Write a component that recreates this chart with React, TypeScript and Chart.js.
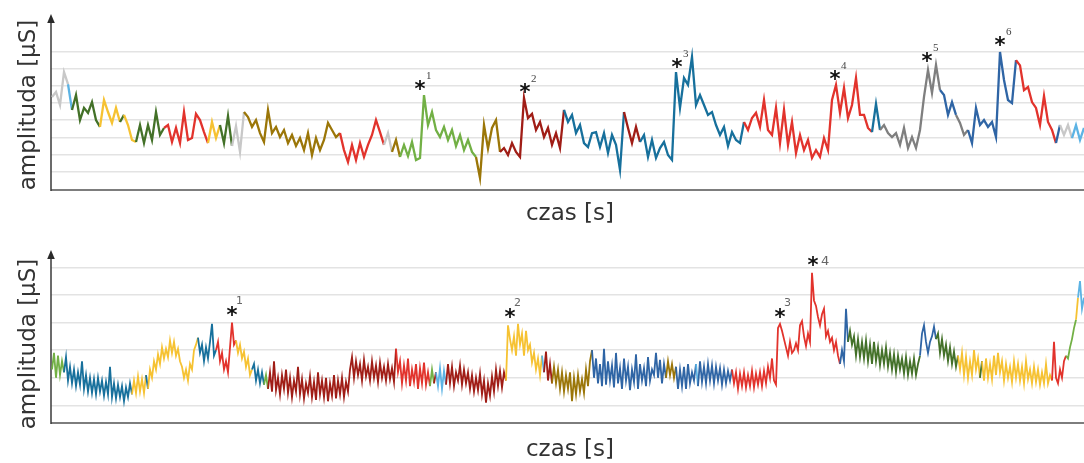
import React, { useEffect, useRef } from "react";
import { Chart, registerables } from "chart.js";
Chart.register(...registerables);

const PALETTE: Record<string, string> = {
  lightGray: "#c8c8c8",
  gray: "#7f7f7f",
  lightBlue: "#5cb3e4",
  darkGreen: "#437128",
  green: "#72b045",
  yellow: "#f6c232",
  red: "#e2332c",
  darkRed: "#a01d16",
  olive: "#9b7608",
  teal: "#17709c",
  blue: "#2f65a5",
};

// ---------- top panel ----------
const topValues = [
  5.36, 5.65, 4.89, 6.81, 6.1, 4.6, 5.47, 4.01, 4.72, 4.43,
  5.06, 4.01, 3.61, 5.18, 4.48, 3.84, 4.72, 3.9, 4.31, 3.72,
  2.85, 2.73, 3.72, 2.67, 3.72, 2.85, 4.48, 3.14, 3.55, 3.72,
  2.73, 3.55, 2.67, 4.48, 2.85, 2.96, 4.37, 4.01, 3.31, 2.67,
  3.9, 2.96, 3.72, 2.67, 4.25, 2.5, 3.66, 2.15, 4.48, 4.19,
  3.61, 4.01, 3.25, 2.73, 4.6, 3.25, 3.61, 3.02, 3.43, 2.67,
  3.14, 2.5, 2.96, 2.26, 3.25, 1.97, 2.96, 2.26, 2.85, 3.84,
  3.43, 3.02, 3.25, 2.26, 1.56, 2.56, 1.68, 2.67, 1.86, 2.56,
  3.14, 4.01, 3.31, 2.56, 3.25, 2.15, 2.85, 1.86, 2.56, 1.91,
  2.73, 1.68, 1.8, 5.47, 3.72, 4.48, 3.43, 3.02, 3.61, 2.85,
  3.43, 2.5, 3.14, 2.26, 2.85, 2.15, 1.86, 0.63, 3.72, 2.35,
  3.55, 4.01, 2.15, 2.38, 1.97, 2.67, 2.15, 1.86, 5.3, 4.13,
  4.37, 3.43, 3.9, 3.02, 3.55, 2.56, 3.25, 2.38, 4.61, 3.9,
  4.31, 3.25, 3.72, 2.67, 2.44, 3.25, 3.31, 2.44, 3.25, 2.09,
  3.14, 2.56, 1.1, 4.48, 3.55, 2.67, 3.61, 2.73, 3.14, 1.86,
  2.85, 1.8, 2.38, 2.73, 1.97, 1.68, 6.81, 4.72, 6.46, 6.06,
  7.69, 4.89, 5.47, 4.89, 4.31, 4.48, 3.72, 3.14, 3.61, 2.5,
  3.31, 2.85, 2.67, 3.9, 3.43, 4.13, 4.43, 3.61, 5.18, 3.43,
  3.14, 4.72, 2.67, 4.61, 2.56, 3.9, 2.09, 3.14, 2.26, 2.85,
  1.8, 2.26, 1.86, 2.96, 2.26, 5.18, 6.06, 4.43, 5.88, 4.13,
  4.89, 6.46, 4.31, 4.31, 3.55, 3.31, 4.95, 3.43, 3.72, 3.25,
  3.02, 3.25, 2.56, 3.55, 2.38, 3.02, 2.38, 3.43, 5.36, 6.93,
  5.59, 7.22, 5.76, 5.47, 4.31, 5.06, 4.31, 3.84, 3.14, 3.43,
  2.67, 4.72, 3.72, 4.01, 3.61, 3.9, 3.02, 7.98, 6.35, 5.18,
  5.0, 7.5, 7.2, 5.76, 5.94, 5.06, 4.72, 3.72, 5.41, 3.9,
  3.43, 2.67, 3.72, 3.14, 3.72, 2.96, 3.72, 2.85, 3.55,
];
const topSegStart = [0, 4, 5, 12, 17, 18, 21, 28, 39, 42, 45, 48, 72, 83, 85, 87, 106, 112, 128, 143, 147, 173, 205, 207, 222, 226, 229, 241, 251, 252, 255];
const topSegColor = [
  "lightGray", "lightBlue", "darkGreen", "yellow", "darkGreen", "yellow", "darkGreen", "red", "yellow", "darkGreen",
  "lightGray", "olive", "red", "lightGray", "olive", "green", "olive", "darkRed", "teal", "darkRed",
  "teal", "red", "teal", "gray", "blue", "gray", "blue", "red", "blue", "lightGray", "lightBlue",
];
const topGrid = [1, 2, 3, 4, 5, 6, 7, 8];
const topStarIndex = [92, 118.25, 156.25, 195.75, 218.75, 237];
const topStarLevel = [6.06, 5.88, 7.34, 6.64, 7.69, 8.62];
const topStarLabel = ["1", "2", "3", "4", "5", "6"];
const topStarPlacement = ["sup", "sup", "sup", "sup", "sup", "sup"];

// ---------- bottom panel ----------
const bottomValues = [
  2.3, 2.9, 2.0, 2.8, 2.1, 2.6, 2.2, 2.75, 1.9, 2.4,
  1.8, 2.3, 1.7, 2.2, 1.75, 2.6, 1.6, 2.1, 1.5, 2.0,
  1.45, 1.95, 1.4, 2.0, 1.5, 1.9, 1.35, 1.85, 1.4, 2.4,
  1.3, 1.8, 1.25, 1.75, 1.3, 1.7, 1.15, 1.65, 1.3, 1.8,
  1.4, 1.9, 1.45, 2.05, 1.5, 1.95, 1.45, 2.1, 1.6, 2.3,
  2.0, 2.6, 2.3, 2.85, 2.5, 3.1, 2.7, 3.05, 2.75, 3.35,
  2.9, 3.3, 2.8, 3.05, 2.6, 2.4, 2.0, 2.3, 1.9, 2.5,
  2.3, 3.0, 3.2, 3.45, 2.9, 3.2, 2.6, 3.1, 2.7, 3.3,
  3.95, 2.8, 3.0, 3.3, 2.6, 2.9, 2.3, 2.6, 2.2, 3.1,
  4.0, 3.2, 3.35, 2.9, 3.2, 2.7, 2.95, 2.4, 2.7, 2.1,
  2.3, 2.5, 1.9, 2.3, 1.8, 2.2, 1.75, 2.1, 1.6, 2.2,
  1.5, 2.6, 1.55, 2.0, 1.4, 2.1, 1.6, 2.3, 1.45, 2.0,
  1.3, 1.9, 1.5, 2.4, 1.4, 1.95, 1.25, 1.8, 1.45, 2.05,
  1.3, 1.85, 1.2, 2.2, 1.4, 1.9, 1.3, 2.0, 1.15, 1.8,
  1.35, 2.1, 1.25, 1.9, 1.4, 2.0, 1.3, 1.85, 1.5, 2.3,
  2.75, 2.0, 2.6, 2.1, 2.5, 1.9, 2.65, 2.05, 2.4, 1.9,
  2.6, 2.0, 2.45, 1.85, 2.55, 2.0, 2.4, 1.9, 2.5, 1.95,
  2.35, 1.85, 3.05, 2.2, 2.6, 1.8, 2.45, 1.9, 2.7, 1.7,
  2.3, 1.85, 2.5, 1.6, 2.35, 1.8, 2.55, 1.75, 2.2, 1.7,
  2.3, 1.8, 2.2, 1.7, 2.35, 1.6, 2.25, 1.75, 2.5, 1.8,
  2.4, 1.7, 2.2, 1.9, 2.45, 1.75, 2.3, 1.8, 2.2, 1.6,
  2.1, 1.5, 2.0, 1.55, 2.15, 1.4, 1.9, 1.1, 1.8, 1.35,
  2.05, 1.5, 2.3, 1.7, 2.25, 1.65, 2.2, 1.9, 3.9, 3.4,
  3.0, 3.5, 2.8, 3.95, 3.2, 3.6, 2.8, 3.7, 3.0, 3.2,
  2.55, 2.9, 2.3, 2.7, 2.1, 2.8, 2.2, 2.95, 1.9, 2.5,
  1.8, 2.4, 1.8, 2.3, 1.6, 2.2, 1.5, 2.1, 1.6, 2.2,
  1.15, 2.0, 1.4, 2.1, 1.5, 1.95, 1.45, 2.3, 1.7, 2.6,
  3.0, 2.0, 2.7, 1.8, 2.5, 1.7, 3.05, 1.75, 2.6, 1.9,
  2.45, 1.65, 2.9, 1.8, 2.35, 1.6, 2.7, 1.9, 2.4, 1.55,
  2.3, 1.85, 2.85, 1.6, 2.5, 1.9, 2.35, 1.7, 2.75, 1.9,
  2.3, 2.1, 2.9, 2.0, 2.65, 1.8, 2.5, 2.0, 2.6, 2.1,
  2.5, 2.0, 2.4, 1.6, 2.3, 1.7, 2.4, 1.6, 2.5, 1.8,
  2.2, 1.9, 2.5, 1.7, 2.6, 1.85, 2.4, 1.8, 2.5, 1.9,
  2.45, 1.8, 2.4, 1.9, 2.35, 1.75, 2.3, 1.8, 2.25, 1.9,
  2.3, 1.8, 2.2, 1.6, 2.15, 1.7, 2.2, 1.65, 2.1, 1.7,
  2.25, 1.65, 2.15, 1.75, 2.2, 1.7, 2.25, 1.8, 2.4, 2.0,
  2.7, 1.9, 1.75, 3.8, 3.95, 3.7, 3.4, 3.1, 2.8, 3.3,
  2.9, 3.0, 3.25, 3.0, 3.9, 4.05, 3.5, 3.15, 3.6, 3.3,
  5.8, 4.8, 4.6, 4.2, 3.9, 4.3, 4.5, 3.5, 3.7, 3.3,
  3.45, 3.0, 3.3, 2.8, 2.5, 3.0, 2.6, 4.5, 3.3, 3.7,
  3.2, 3.5, 2.8, 3.4, 2.75, 3.3, 2.7, 3.35, 2.6, 3.2,
  2.5, 3.3, 2.6, 3.1, 2.45, 3.0, 2.5, 3.1, 2.4, 2.9,
  2.3, 2.85, 2.2, 2.8, 2.3, 2.7, 2.15, 2.75, 2.1, 2.6,
  2.15, 2.7, 2.1, 2.5, 2.8, 3.6, 3.9, 3.3, 2.9, 3.3,
  3.5, 3.85, 3.4, 3.6, 2.9, 3.4, 2.8, 3.2, 2.6, 3.1,
  2.5, 2.95, 2.4, 2.8, 2.3, 2.9, 2.1, 2.75, 2.0, 2.6,
  2.1, 3.0, 2.3, 2.7, 2.0, 2.6, 1.9, 2.7, 2.0, 2.5,
  1.95, 2.8, 2.1, 2.9, 2.2, 2.6, 1.9, 2.5, 2.0, 2.4,
  1.85, 2.6, 2.0, 2.5, 1.9, 2.4, 1.8, 2.6, 1.95, 2.3,
  1.8, 2.4, 1.85, 2.3, 1.75, 2.2, 1.8, 2.5, 1.8, 2.1,
  1.9, 3.3, 2.0, 1.8, 2.3, 2.0, 2.6, 2.8, 2.7, 3.1,
  3.4, 3.8, 4.1, 4.9, 5.5, 4.5, 4.9,
];
const bottomSegStart = [0, 6, 40, 47, 48, 73, 82, 92, 100, 106, 108, 172, 189, 191, 192, 197, 227, 245, 246, 250, 270, 307, 312, 322, 323, 340, 394, 398, 434, 442, 453, 464, 465, 500, 507, 512, 513];
const bottomSegColor = [
  "green", "teal", "yellow", "teal", "yellow", "teal", "red", "yellow", "teal", "green",
  "darkRed", "red", "green", "darkRed", "lightBlue", "darkRed", "yellow", "lightBlue", "darkRed", "olive",
  "blue", "olive", "blue", "lightBlue", "blue", "red", "blue", "darkGreen", "blue", "darkGreen",
  "yellow", "darkGreen", "yellow", "red", "green", "yellow", "lightBlue",
];
const bottomGrid = [1, 2, 3, 4, 5, 6];
const bottomStarIndex = [90, 229, 364, 380.5];
const bottomStarLevel = [4.42, 4.35, 4.35, 6.22];
const bottomStarLabel = ["1", "2", "3", "4"];
const bottomStarPlacement = ["sup", "sup", "sup", "side"];

type PanelProps = {
  top: number;
  height: number;
  values: number[];
  segStart: number[];
  segColor: string[];
  grid: number[];
  yMin: number;
  yMax: number;
  xMin: number;
  lineWidth: number;
  pad: { left: number; top: number; right: number; bottom: number };
  starIndex: number[];
  starLevel: number[];
  starLabel: string[];
  starPlacement: string[];
  supFont: string;
  supColor: string;
  supDx: number;
  supDy: number;
};

function colorAt(i: number, segStart: number[], segColor: string[]) {
  let c = segColor[0];
  for (let k = 0; k < segStart.length; k++) {
    if (i >= segStart[k]) c = segColor[k];
  }
  return PALETTE[c];
}

function Panel(p: PanelProps) {
  const ref = useRef<HTMLCanvasElement>(null);
  useEffect(() => {
    const canvas = ref.current!;
    const decor = {
      id: "decor",
      beforeDatasetsDraw(chart: any) {
        const { ctx, chartArea: a } = chart;
        ctx.save();
        ctx.strokeStyle = "#7d7d7d";
        ctx.lineWidth = 2;
        ctx.beginPath();
        ctx.moveTo(a.left, a.bottom);
        ctx.lineTo(a.right, a.bottom);
        ctx.stroke();
        ctx.strokeStyle = "#3a3a3a";
        ctx.lineWidth = 1.5;
        ctx.beginPath();
        ctx.moveTo(a.left, a.bottom + 1);
        ctx.lineTo(a.left, a.top + 4);
        ctx.stroke();
        ctx.fillStyle = "#2a2a2a";
        ctx.beginPath();
        ctx.moveTo(a.left, a.top - 3);
        ctx.lineTo(a.left - 3.8, a.top + 6);
        ctx.lineTo(a.left + 3.8, a.top + 6);
        ctx.closePath();
        ctx.fill();
        ctx.restore();
      },
      afterDatasetsDraw(chart: any) {
        const { ctx, scales } = chart;
        const xs = scales.x;
        const ys = scales.y;
        ctx.save();
        for (let k = 0; k < p.starIndex.length; k++) {
          const x = xs.getPixelForValue(p.starIndex[k]);
          const yc = ys.getPixelForValue(p.starLevel[k]);
          ctx.font = 'bold 21px "DejaVu Sans"';
          ctx.fillStyle = "#111";
          ctx.textAlign = "center";
          ctx.textBaseline = "alphabetic";
          const m = ctx.measureText("*");
          const off = (m.actualBoundingBoxAscent - m.actualBoundingBoxDescent) / 2;
          ctx.fillText("*", x, yc + off);
          ctx.textAlign = "left";
          ctx.textBaseline = "middle";
          ctx.fillStyle = p.supColor;
          if (p.starPlacement[k] === "side") {
            ctx.font = '13px "DejaVu Sans"';
            ctx.fillText(p.starLabel[k], x + 8, yc);
          } else {
            ctx.font = p.supFont;
            ctx.fillText(p.starLabel[k], x + p.supDx, yc + p.supDy);
          }
        }
        ctx.restore();
      },
    };
    const chart = new Chart(canvas, {
      type: "line",
      data: {
        datasets: [
          {
            data: p.values.map((v, i) => ({ x: i, y: v })),
            borderColor: colorAt(0, p.segStart, p.segColor),
            borderWidth: p.lineWidth,
            pointRadius: 0,
            tension: 0,
            segment: {
              borderColor: (ctx: any) => colorAt(ctx.p0DataIndex, p.segStart, p.segColor),
            },
          },
        ],
      },
      options: {
        animation: false,
        responsive: false,
        maintainAspectRatio: false,
        events: [],
        layout: { padding: p.pad, autoPadding: false } as any,
        plugins: { legend: { display: false }, tooltip: { enabled: false } },
        scales: {
          x: {
            type: "linear",
            min: p.xMin,
            max: p.values.length - 1,
            display: false,
          },
          y: {
            type: "linear",
            min: p.yMin,
            max: p.yMax,
            display: true,
            border: { display: false },
            grid: { color: "#e3e3e3", lineWidth: 1.5, drawTicks: false },
            ticks: { display: false },
            afterBuildTicks: (axis: any) => {
              axis.ticks = p.grid.map((v) => ({ value: v }));
            },
          },
        },
      },
      plugins: [decor],
    } as any);
    return () => chart.destroy();
  }, []);
  return (
    <canvas
      ref={ref}
      width={1084}
      height={p.height}
      style={{ position: "absolute", left: 0, top: p.top, width: 1084, height: p.height, display: "block" }}
    />
  );
}

const labelBase: React.CSSProperties = {
  position: "absolute",
  fontFamily: '"DejaVu Sans", sans-serif',
  fontSize: 23,
  lineHeight: "23px",
  color: "#333",
  whiteSpace: "nowrap",
};

export default function App() {
  return (
    <div style={{ position: "absolute", left: 0, top: 0, width: 1084, height: 463, background: "#fff", overflow: "hidden" }}>
      <Panel
        top={0}
        height={232}
        values={topValues}
        segStart={topSegStart}
        segColor={topSegColor}
        grid={topGrid}
        yMin={-0.068}
        yMax={10.02}
        xMin={-0.25}
        lineWidth={2.3}
        pad={{ left: 51, top: 17, right: 0, bottom: 42 }}
        starIndex={topStarIndex}
        starLevel={topStarLevel}
        starLabel={topStarLabel}
        starPlacement={topStarPlacement}
        supFont='11px "Liberation Serif"'
        supColor="#444"
        supDx={6}
        supDy={-9}
      />
      <Panel
        top={232}
        height={231}
        values={bottomValues}
        segStart={bottomSegStart}
        segColor={bottomSegColor}
        grid={bottomGrid}
        yMin={0.364}
        yMax={6.517}
        xMin={-0.5}
        lineWidth={1.8}
        pad={{ left: 51, top: 21, right: 0, bottom: 40 }}
        starIndex={bottomStarIndex}
        starLevel={bottomStarLevel}
        starLabel={bottomStarLabel}
        starPlacement={bottomStarPlacement}
        supFont='11px "DejaVu Sans"'
        supColor="#666"
        supDx={4}
        supDy={-10}
      />
      <div style={{ ...labelBase, left: 27, top: 105, transform: "translate(-50%, -50%) rotate(-90deg)" }}>amplituda [µS]</div>
      <div style={{ ...labelBase, left: 27, top: 344, transform: "translate(-50%, -50%) rotate(-90deg)" }}>amplituda [µS]</div>
      <div style={{ ...labelBase, left: 570, top: 212, transform: "translate(-50%, -50%)" }}>czas [s]</div>
      <div style={{ ...labelBase, left: 570, top: 448, transform: "translate(-50%, -50%)" }}>czas [s]</div>
    </div>
  );
}
